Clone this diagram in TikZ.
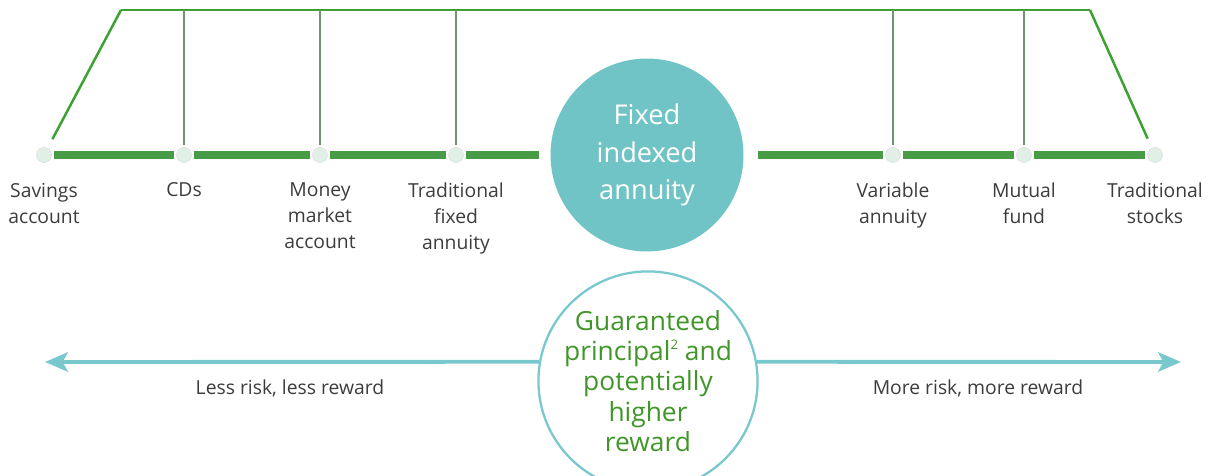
\documentclass[tikz,border=0pt]{standalone}
\usepackage{fontspec}
\setmainfont{Open Sans}
\usepackage{tikz}
\usetikzlibrary{arrows.meta, positioning}

\definecolor{barGreen}{RGB}{72,156,70}
\definecolor{lineGreen}{RGB}{60,160,50}
\definecolor{tieGreen}{RGB}{110,150,110}
\definecolor{dotFill}{RGB}{225,240,230}
\definecolor{teal}{RGB}{112,196,198}
\definecolor{arrowTeal}{RGB}{120,200,206}
\definecolor{textGreen}{RGB}{64,150,40}
\definecolor{textGray}{RGB}{60,60,62}

\begin{document}
\begin{tikzpicture}[
  x=0.02cm, y=-0.02cm,
  dot/.style={circle, draw=black!12, fill=dotFill, minimum size=0.3cm, inner sep=0, outer sep=0.05cm},
  bar/.style={draw=barGreen, line width=4pt},
  tie/.style={draw=tieGreen, line width=0.8pt},
  frame/.style={draw=lineGreen, line width=1.4pt},
  lbl/.style={font=\fontsize{11}{14.8}\selectfont, text=textGray, align=center, inner sep=0},
  >={Stealth[length=13pt, width=11pt, inset=3pt]}
]
  \useasboundingbox (0,0) rectangle (1208,476);

  % top frame corners
  \coordinate (tl) at (121,10);
  \coordinate (tr) at (1090,10);

  % points on the scale
  \node[dot] (sav) at (44,155) {};
  \node[dot] (cds) at (184,155) {};
  \node[dot] (mma) at (320,155) {};
  \node[dot] (tfa) at (456,155) {};
  \node[dot] (var) at (893,155) {};
  \node[dot] (mut) at (1024,155) {};
  \node[dot] (stk) at (1155,155) {};

  \node[circle, fill=teal, minimum size=3.86cm, inner sep=0, text=white,
    align=center, font=\fontsize{15.5}{21.5}\selectfont] (fia) at (647,155)
    {\raisebox{0pt}[0pt][0pt]{}Fixed\\indexed\\annuity};

  % labels
  \node[lbl, below=0.35cm of sav] {Savings\\account};
  \node[lbl, below=0.35cm of cds] {CDs};
  \node[lbl, below=0.35cm of mma] {Money\\market\\account};
  \node[lbl, below=0.35cm of tfa] {Traditional\\fixed\\annuity};
  \node[lbl, below=0.35cm of var] {Variable\\annuity};
  \node[lbl, below=0.35cm of mut] {Mutual\\fund};
  \node[lbl, below=0.35cm of stk] {Traditional\\stocks};

  % scale bar
  \draw[bar] (sav) -- (cds);
  \draw[bar] (cds) -- (mma);
  \draw[bar] (mma) -- (tfa);
  \draw[bar, shorten >=0.22cm] (tfa) -- (fia);
  \draw[bar, shorten <=0.28cm] (fia) -- (var);
  \draw[bar] (var) -- (mut);
  \draw[bar] (mut) -- (stk);

  % frame
  \draw[frame, shorten >=0.16cm] (tl) -- (sav);
  \draw[frame] (tl) -- (tr);
  \draw[frame, shorten >=0.16cm] (tr) -- (stk);
  \foreach \p in {cds, mma, tfa, var, mut}
    \draw[tie] (\p) -- (\p |- tl);

  % risk arrows
  \node[circle, draw=arrowTeal, line width=1.3pt, minimum size=4.1cm, inner sep=0,
    text=textGreen, align=center, font=\fontsize{15}{17.3}\selectfont] (gpr) at (648,381)
    {Guaranteed\\principal\raisebox{0.75ex}{\fontsize{7.5}{8}\selectfont 2} and\\potentially\\higher\\reward};
  \coordinate (lend) at (45,362);
  \coordinate (rend) at (1181,362);
  \draw[->, draw=arrowTeal, fill=arrowTeal, line width=2.2pt] (gpr.170) -- (lend);
  \draw[->, draw=arrowTeal, fill=arrowTeal, line width=2.2pt] (gpr.10) -- (rend);
  \node[lbl] (less) at (290,388) {Less risk, less reward};
  \node[lbl] (more) at (978,388) {More risk, more reward};
\end{tikzpicture}
\end{document}
